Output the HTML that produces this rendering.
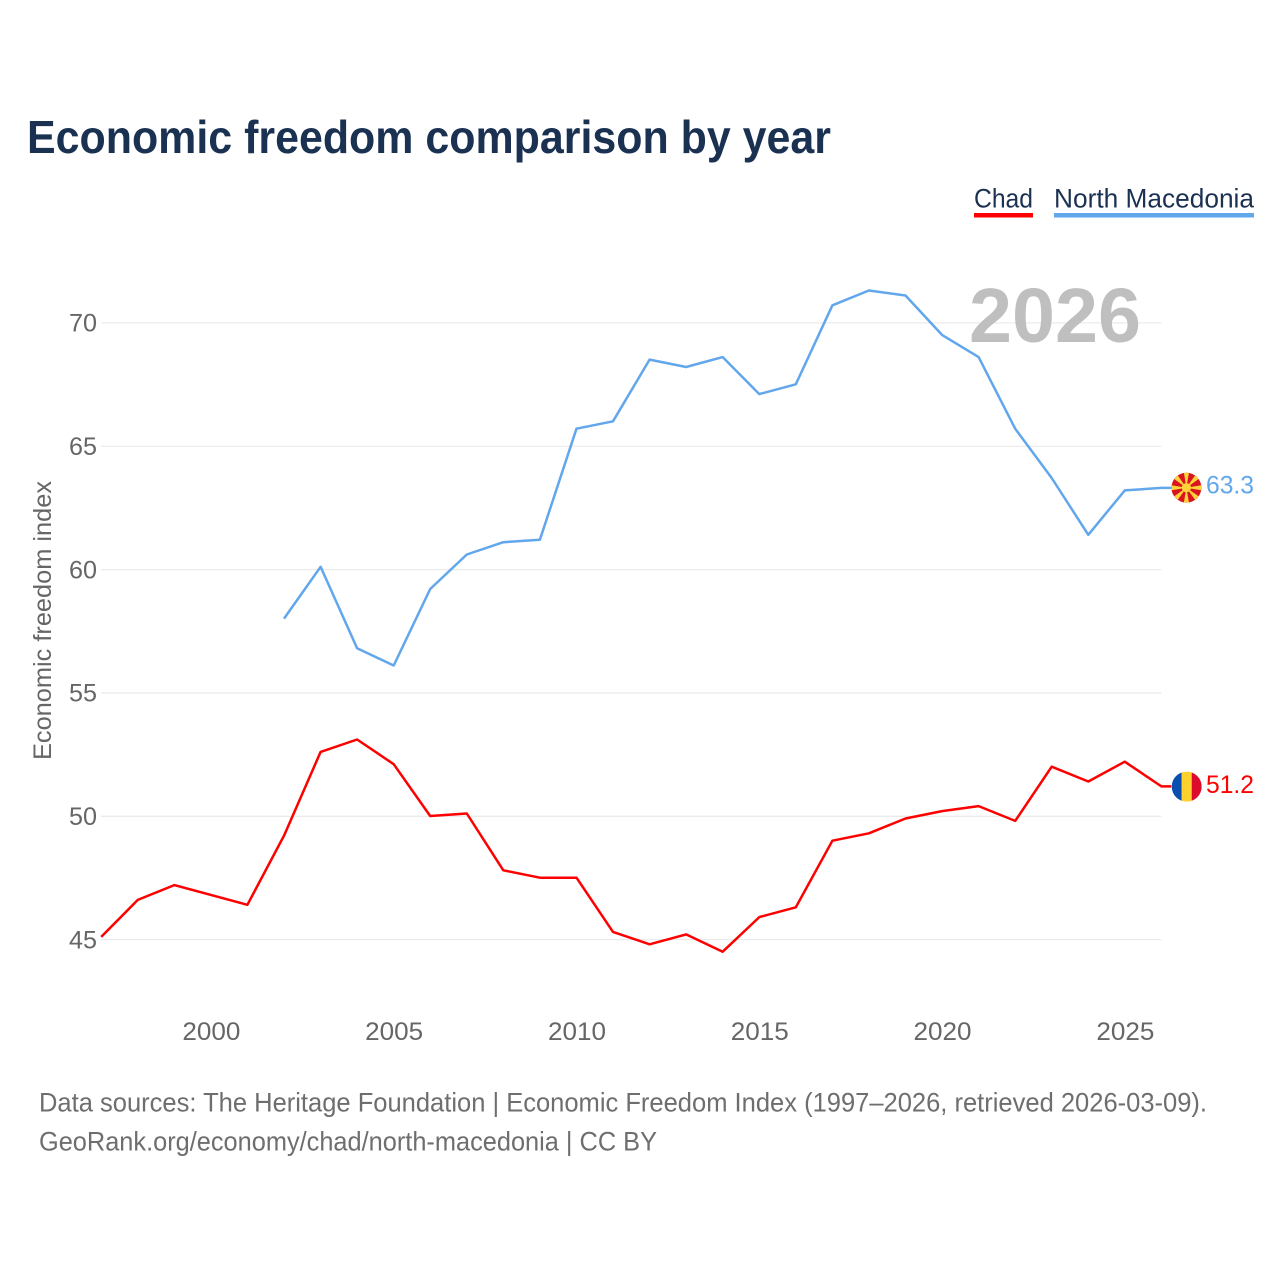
<!DOCTYPE html>
<html lang="en">
<head>
<meta charset="utf-8">
<title>Economic freedom comparison by year</title>
<style>
html,body{margin:0;padding:0;background:#fff;width:1280px;height:1280px;overflow:hidden}
svg{display:block}
text{font-family:"Liberation Sans",sans-serif}
</style>
</head>
<body>
<svg id="chart" xmlns="http://www.w3.org/2000/svg" width="1280" height="1280" viewBox="0 0 1280 1280">
  <rect x="0" y="0" width="1280" height="1280" fill="#ffffff"/>
  <text x="27" y="153" font-size="46" font-weight="700" fill="#1a3152" textLength="804" lengthAdjust="spacingAndGlyphs">Economic freedom comparison by year</text>
  <g>
    <text x="974" y="207.5" font-size="27" fill="#1a3152" textLength="59" lengthAdjust="spacingAndGlyphs">Chad</text>
    <rect x="974" y="213" width="59" height="4.5" fill="#ff0000"/>
  </g>
  <g>
    <text x="1054" y="207.5" font-size="27" fill="#1a3152" textLength="200" lengthAdjust="spacingAndGlyphs">North Macedonia</text>
    <rect x="1054" y="213" width="200" height="4.5" fill="#62a6ec"/>
  </g>
  <g id="grid"></g>
  <text x="969" y="342" font-size="77" font-weight="700" fill="#bfbfbf" textLength="172" lengthAdjust="spacingAndGlyphs">2026</text>
  <g id="yticks"></g>
  <g id="xticks"></g>
  <text transform="translate(51,760) rotate(-90)" x="0" y="0" font-size="25" fill="#666666" textLength="279" lengthAdjust="spacingAndGlyphs">Economic freedom index</text>
  <g id="series"></g>
  <g id="end-markers"></g>
  <text x="39" y="1111.5" font-size="27" fill="#6e6e6e" textLength="1168" lengthAdjust="spacingAndGlyphs">Data sources: The Heritage Foundation | Economic Freedom Index (1997–2026, retrieved 2026-03-09).</text>
  <text x="39" y="1150.5" font-size="27" fill="#6e6e6e" textLength="618" lengthAdjust="spacingAndGlyphs">GeoRank.org/economy/chad/north-macedonia | CC BY</text>
</svg>
<script>
const years = [1997,1998,1999,2000,2001,2002,2003,2004,2005,2006,2007,2008,2009,2010,2011,2012,2013,2014,2015,2016,2017,2018,2019,2020,2021,2022,2023,2024,2025,2026];
const chadValues = [45.1,46.6,47.2,46.8,46.4,49.2,52.6,53.1,52.1,50.0,50.1,47.8,47.5,47.5,45.3,44.8,45.2,44.5,45.9,46.3,49.0,49.3,49.9,50.2,50.4,49.8,52.0,51.4,52.2,51.2];
const macedoniaValues = [null,null,null,null,null,58.0,60.1,56.8,56.1,59.2,60.6,61.1,61.2,65.7,66.0,68.5,68.2,68.6,67.1,67.5,70.7,71.3,71.1,69.5,68.6,65.7,63.7,61.4,63.2,63.3];
const yTickValues = [45,50,55,60,65,70];
const xTickValues = [2000,2005,2010,2015,2020,2025];

const NS = 'http://www.w3.org/2000/svg';
const plotLeft = 101.2, plotRight = 1161.4;
function xScale(year){ return plotLeft + (year - 1997) * (plotRight - plotLeft) / 29; }
function yScale(v){ return 322.6 + (70 - v) * 24.67; }
function make(tag, attrs, parent){
  const el = document.createElementNS(NS, tag);
  Object.keys(attrs).forEach(k => el.setAttribute(k, attrs[k]));
  parent.appendChild(el);
  return el;
}
const gridG = document.getElementById('grid');
const yG = document.getElementById('yticks');
const xG = document.getElementById('xticks');
const seriesG = document.getElementById('series');
const markersG = document.getElementById('end-markers');

yTickValues.forEach(v => {
  const line = make('line', {x1:plotLeft, x2:plotRight, y1:yScale(v)+0.3, y2:yScale(v)+0.3, stroke:'#ebebeb', 'stroke-width':1.3}, gridG);
  
  
  const t = make('text', {x:97, y:yScale(v)+9, 'font-size':25, fill:'#666666', 'text-anchor':'end', textLength:28, lengthAdjust:'spacingAndGlyphs'}, yG);
  
  
  t.textContent = v;
});
xTickValues.forEach(v => {
  const t = make('text', {x:xScale(v)+0.5, y:1040, 'font-size':25, fill:'#666666', 'text-anchor':'middle', textLength:58, lengthAdjust:'spacingAndGlyphs'}, xG);
  
  
  t.textContent = v;
});
function drawSeries(values, color, name){
  const pts = [];
  values.forEach((v, i) => { if (v !== null) pts.push(xScale(years[i]).toFixed(1) + ',' + yScale(v).toFixed(1)); });
  const lastY = yScale(values[values.length - 1]);
  pts.push((plotRight + 10) + ',' + lastY.toFixed(1));
  const line = make('polyline', {points:pts.join(' '), fill:'none', stroke:color, 'stroke-width':2.5, 'stroke-linejoin':'round'}, seriesG);
  
  
}
drawSeries(chadValues, '#ff0000', 'chad');
drawSeries(macedoniaValues, '#62a6ec', 'north-macedonia');

function endLabel(values, color, name, dy){
  const last = values[values.length - 1];
  const t = make('text', {x:1206, y:yScale(last)+dy, 'font-size':25, fill:color, textLength:48, lengthAdjust:'spacingAndGlyphs'}, markersG);
  
  
  t.textContent = last.toFixed(1);
}
endLabel(chadValues, '#ff0000', 'chad', 6.5);
endLabel(macedoniaValues, '#62a6ec', 'north-macedonia', 5.5);

/* Chad flag marker */
(function(){
  const cy = yScale(chadValues[chadValues.length - 1]) + 0.2;
  const cx = 1186.7, r = 15;
  const g = make('g', {}, markersG);
  
  
  const clip = make('clipPath', {id:'clip-chad'}, g);
  make('circle', {cx:cx, cy:cy, r:r}, clip);
  const inner = make('g', {'clip-path':'url(#clip-chad)'}, g);
  make('rect', {x:cx-r, y:cy-r, width:10, height:2*r, fill:'#0a4fb0'}, inner);
  make('rect', {x:cx-r+10, y:cy-r, width:10, height:2*r, fill:'#fed12f'}, inner);
  make('rect', {x:cx-r+20, y:cy-r, width:10, height:2*r, fill:'#dc0a2c'}, inner);
})();
/* North Macedonia flag marker */
(function(){
  const cy = yScale(macedoniaValues[macedoniaValues.length - 1]) - 0.2;
  const cx = 1186.4, r = 15;
  const g = make('g', {}, markersG);
  
  
  make('circle', {cx:cx, cy:cy, r:r, fill:'#d8141e'}, g);
  for (let i = 0; i < 8; i++){
    const a = i * Math.PI / 4;
    const spread = 0.17;
    const p = [[cx, cy],
      [cx + r*Math.cos(a-spread), cy + r*Math.sin(a-spread)],
      [cx + r*Math.cos(a+spread), cy + r*Math.sin(a+spread)]];
    make('polygon', {points:p.map(q => q[0].toFixed(1)+','+q[1].toFixed(1)).join(' '), fill:'#fdd23a'}, g);
  }
  make('circle', {cx:cx, cy:cy, r:4.6, fill:'#fdd23a'}, g);
})();
</script>
</body>
</html>
